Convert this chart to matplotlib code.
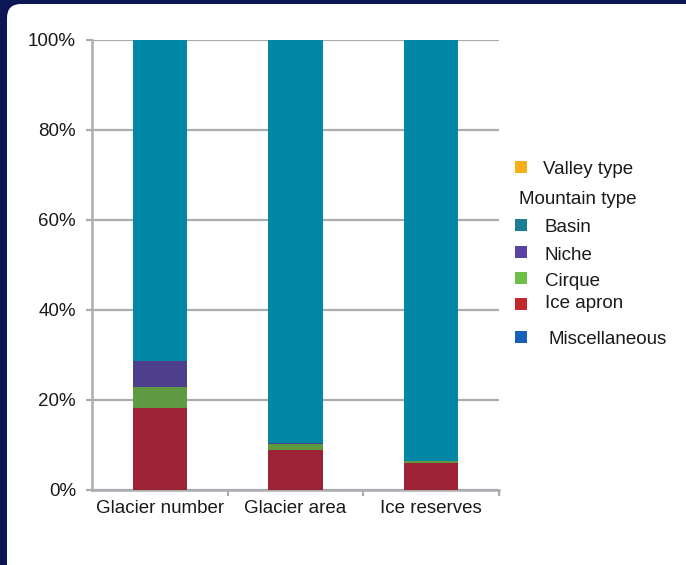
import matplotlib
matplotlib.use("Agg")
import matplotlib.pyplot as plt
from matplotlib.patches import FancyBboxPatch, Rectangle
import numpy as np

plt.rcParams['font.family'] = ['Liberation Sans', 'DejaVu Sans']

categories = ["Glacier number", "Glacier area", "Ice reserves"]
ice_apron = [18.3, 9.0, 6.1]
cirque = [4.7, 1.3, 0.3]
niche = [5.7, 0.2, 0.1]
miscellaneous = [0.0, 0.0, 0.0]
valley = [0.0, 0.0, 0.0]
basin = [100 - a - b - c for a, b, c in zip(ice_apron, cirque, niche)]
yticks = [0, 20, 40, 60, 80, 100]
ytick_labels = ["0%", "20%", "40%", "60%", "80%", "100%"]

bar_colors = {
    "Ice apron": "#9E2236",
    "Cirque": "#5E9A42",
    "Niche": "#4E3F8C",
    "Basin": "#0088A6",
}
legend_colors = {
    "Valley type": "#F7AE1A",
    "Basin": "#1B7C96",
    "Niche": "#5A42A2",
    "Cirque": "#6CC04A",
    "Ice apron": "#C0282E",
    "Miscellaneous": "#1A5FB8",
}
FS = 13.5
TXT = "#1A1A1A"

W, H = 686, 565
fig = plt.figure(figsize=(W / 100, H / 100), dpi=100)
fig.patch.set_facecolor("#0B1655")

panel = FancyBboxPatch((7, -20), W + 20, H - 4 + 20,
                       boxstyle="round,pad=0,rounding_size=14",
                       transform=None, facecolor="white", edgecolor="none", zorder=0)
fig.add_artist(panel)

ax = fig.add_axes([92 / W, (H - 490) / H, (499 - 92) / W, 450 / H])
ax.set_facecolor("none")
x = np.arange(len(categories))
width = 0.4
bottom = np.zeros(len(categories))
for name, vals in [("Ice apron", ice_apron), ("Cirque", cirque), ("Niche", niche), ("Basin", basin)]:
    ax.bar(x, vals, width, bottom=bottom, color=bar_colors[name], zorder=3)
    bottom += np.array(vals)

ax.set_xlim(-0.5, 2.5)
ax.set_ylim(0, 100)
ax.set_yticks(yticks)
ax.set_yticklabels(ytick_labels, fontsize=FS, color=TXT)
ax.yaxis.grid(True, color="#A9ADB1", linewidth=1.6, zorder=0)
ax.set_axisbelow(True)
ax.set_xticks(x)
ax.set_xticklabels(categories, fontsize=FS, color=TXT)
ax.set_xticks([0.5, 1.5, 2.5], minor=True)
ax.tick_params(axis="x", which="major", length=0, pad=7)
ax.tick_params(axis="x", which="minor", length=4.5, width=1.6, color="#A9ADB1")
ax.tick_params(axis="y", length=4.5, width=1.6, color="#A9ADB1", pad=7)
for s in ["top", "right"]:
    ax.spines[s].set_visible(False)
for s in ["left", "bottom"]:
    ax.spines[s].set_color("#A9ADB1")
    ax.spines[s].set_linewidth(1.8)

def px(xp, yp):
    return xp / W, 1 - yp / H

items = [
    ("Valley type", 168, 543, True),
    ("Mountain type", 198, 519, False),
    ("Basin", 226, 545, True),
    ("Niche", 253, 545, True),
    ("Cirque", 279, 545, True),
    ("Ice apron", 302, 545, True),
    ("Miscellaneous", 338, 549, True),
]
for label, yp, xt, has_marker in items:
    if has_marker:
        my = yp + (3 if label == "Ice apron" else 0)
        x0, y0 = px(515, my + 5)
        fig.add_artist(Rectangle((x0, y0), 12 / W, 12 / H, transform=fig.transFigure,
                                 facecolor=legend_colors[label], edgecolor="none"))
    tx, ty = px(xt, yp + 2)
    fig.text(tx, ty, label, fontsize=FS, color=TXT, va="center", ha="left")

fig.savefig("out.png", dpi=100, facecolor=fig.get_facecolor())
